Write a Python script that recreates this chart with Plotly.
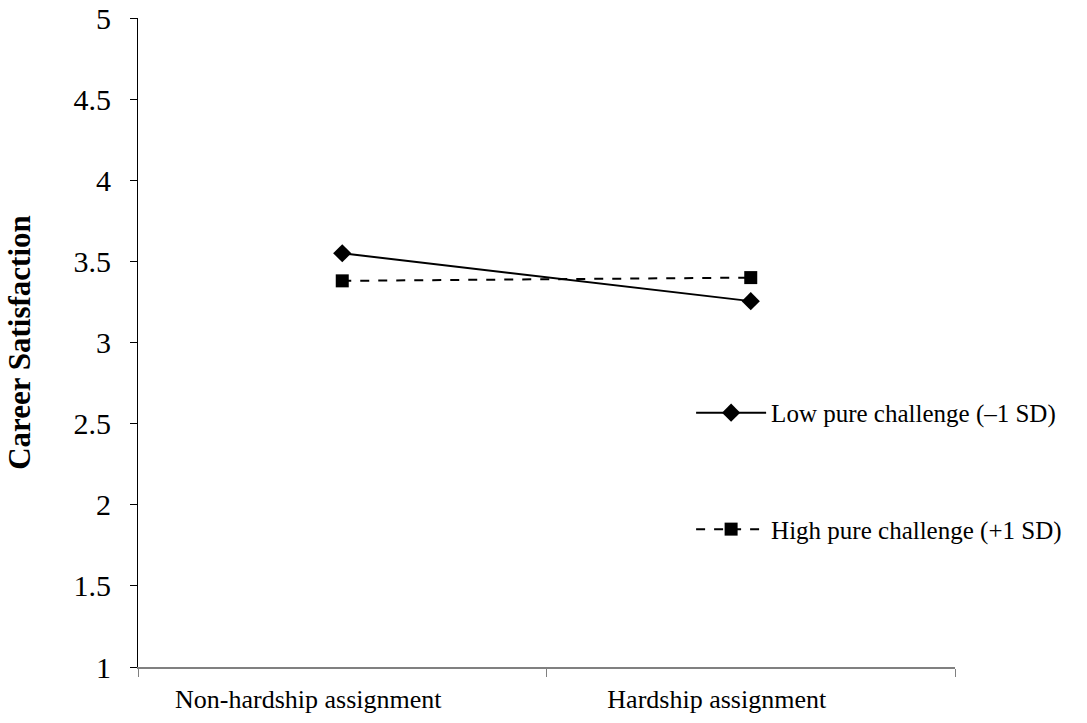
import plotly.graph_objects as go

categories = ["Non-hardship assignment", "Hardship assignment"]
low_values = [3.55, 3.255]
high_values = [3.38, 3.40]
series_names = ["Low pure challenge (\u20131 SD)", "High pure challenge (+1 SD)"]
y_ticks = [1, 1.5, 2, 2.5, 3, 3.5, 4, 4.5, 5]
y_title = "Career Satisfaction"

FONT = "Liberation Serif, Times New Roman, serif"

fig = go.Figure()
fig.add_trace(go.Scatter(
    x=categories, y=low_values, name=series_names[0], mode="lines+markers",
    line=dict(color="black", width=2, dash="solid"),
    marker=dict(symbol="diamond", size=14, color="black"),
    legendgroup="a",
))
fig.add_trace(go.Scatter(
    x=categories, y=high_values, name=series_names[1], mode="lines+markers",
    line=dict(color="black", width=2, dash="dash"),
    marker=dict(symbol="square", size=13, color="black"),
    legendgroup="b",
))

fig.update_layout(
    width=1087, height=723,
    margin=dict(l=138, r=132, t=18, b=56),
    paper_bgcolor="white", plot_bgcolor="white",
    font=dict(family=FONT, color="black", size=26),
    showlegend=True,
    legend=dict(
        x=0.677, y=0.427, xanchor="left", yanchor="top",
        font=dict(family=FONT, size=25, color="black"),
        bgcolor="rgba(0,0,0,0)",
        tracegroupgap=81,
        traceorder="grouped",
        itemwidth=70,
    ),
    xaxis=dict(
        type="category", range=[-0.5, 1.5], automargin=False,
        tickson="boundaries", ticks="outside", ticklen=8, tickcolor="#808080",
        showline=True, linecolor="#808080", linewidth=1.5,
        showgrid=False, zeroline=False,
        tickfont=dict(family=FONT, size=26),
        ticklabelshift=-34, ticklabelstandoff=8,
    ),
    yaxis=dict(
        range=[1, 5], tickvals=y_ticks, ticktext=[str(v) for v in y_ticks],
        automargin=False,
        ticks="outside", ticklen=7, tickcolor="black",
        showline=True, linecolor="black", linewidth=1,
        showgrid=False, zeroline=False,
        tickfont=dict(family=FONT, size=30),
        ticklabelstandoff=13,
        title=dict(text="<b>" + y_title + "</b>", font=dict(family=FONT, size=31), standoff=33),
    ),
)

fig.write_html("out.html", config={"displayModeBar": False},
               post_script="document.body.style.margin='0';")
